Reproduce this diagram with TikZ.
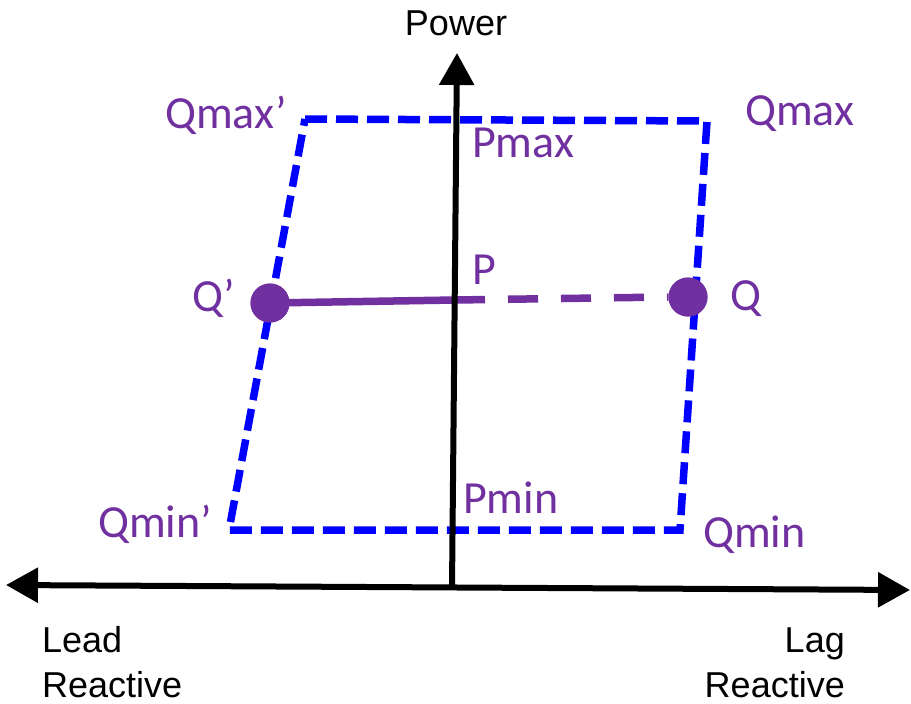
\documentclass[tikz,border=0pt]{standalone}
\usepackage{fontspec}
\newfontfamily\calfont{Carlito}
\newfontfamily\arialfont{Liberation Sans}
\usetikzlibrary{arrows.meta}
\definecolor{qpurple}{HTML}{7030A0}
\definecolor{qblue}{HTML}{0000FF}
\begin{document}
\begin{tikzpicture}[x=1pt,y=-1pt,
  axisline/.style={line width=6pt,black},
  bigtip/.tip={Triangle[length=32pt,width=34pt]},
  boxline/.style={line width=7.5pt,qblue,dash pattern=on 22pt off 9pt},
  pline/.style={line width=7.5pt,qpurple},
  pdashed/.style={pline,dash pattern=on 30pt off 23pt},
  dot/.style={circle,fill=qpurple,inner sep=0pt,minimum size=39pt},
  plabel/.style={inner sep=0pt,text=qpurple,font=\calfont\fontsize{46}{52}\selectfont},
  klabel/.style={inner sep=0pt,text=black,font=\arialfont\fontsize{36}{44}\selectfont}]
\useasboundingbox (0,0) rectangle (911,704);
% parallelogram
\coordinate (tl) at (305,119);
\coordinate (tr) at (707,121);
\coordinate (br) at (680,530);
\coordinate (bl) at (229,530);
\draw[boxline] (tl) -- (tr) -- (br) -- (bl) -- cycle;
% purple line
\node[dot] (Qp) at (270,303) {};
\node[dot] (Q) at (688,297) {};
\coordinate (P) at (455,300);
\draw[pline] (Qp.center) -- (P);
\draw[pdashed] (P) -- (Q.west);
% axes
\coordinate (vbot) at (452,588);
\coordinate (vtop) at (457,53);
\coordinate (hleft) at (6,585);
\coordinate (hright) at (910,590);
\draw[axisline,-bigtip] (vbot) -- (vtop);
\draw[axisline,bigtip-bigtip] (hleft) -- (hright);
% redraw dots on top
\node[dot] at (Qp) {};
\node[dot] at (Q) {};
% labels
\node[klabel,anchor=base] (power) at (456,35) {Power};
\node[plabel,anchor=base west] (lQmaxp) at (165,128) {Qmax’};
\node[plabel,anchor=base west] (lQmax) at (745,125) {Qmax};
\node[plabel,anchor=base west] (lPmax) at (472,157) {Pmax};
\node[plabel,anchor=base west] (lP) at (472,284) {P};
\node[plabel,anchor=base west] (lQp) at (192,311) {Q’};
\node[plabel,anchor=base west] (lQ) at (730,310) {Q};
\node[plabel,anchor=base west] (lQminp) at (98,537) {Qmin’};
\node[plabel,anchor=base west] (lPmin) at (463,513) {Pmin};
\node[plabel,anchor=base west] (lQmin) at (703,547) {Qmin};
\node[klabel,anchor=base west] (lead1) at (42,652) {Lead};
\node[klabel,anchor=base west] (lead2) at (42,697) {Reactive};
\node[klabel,anchor=base east] (lag1) at (845,652) {Lag};
\node[klabel,anchor=base east] (lag2) at (845,697) {Reactive};
\end{tikzpicture}
\end{document}
